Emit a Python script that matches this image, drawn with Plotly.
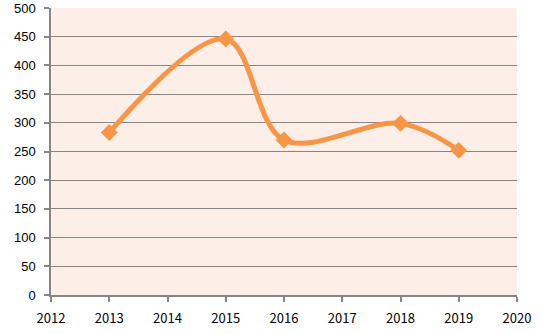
import plotly.graph_objects as go

years = [2013, 2015, 2016, 2018, 2019]
values = [283, 446, 270, 299, 252]

x_ticks = list(range(2012, 2021))
y_ticks = list(range(0, 501, 50))

fig = go.Figure()
fig.add_trace(go.Scatter(
    x=years, y=values,
    mode="lines+markers",
    line=dict(color="#F79646", width=5, shape="spline", smoothing=1.0),
    marker=dict(symbol="diamond", size=13, color="#F79646"),
    showlegend=False,
))

fig.update_layout(
    width=548, height=334,
    margin=dict(l=51, r=31, t=8, b=39, autoexpand=False),
    paper_bgcolor="white",
    plot_bgcolor="#FDEEE8",
)
fig.update_xaxes(
    range=[2012, 2020], tickvals=x_ticks, ticktext=[str(v) for v in x_ticks],
    automargin=False,
    showgrid=False, zeroline=False,
    showline=True, linecolor="#868686", linewidth=1.5,
    ticks="outside", ticklen=5, tickcolor="#868686", tickwidth=1.5,
    ticklabelstandoff=6,
    tickfont=dict(family="Noto Sans CJK SC", size=13, color="black"),
)
fig.update_yaxes(
    range=[0, 500], tickvals=y_ticks,
    automargin=False,
    showgrid=True, gridcolor="#868686", gridwidth=1.2,
    zeroline=False,
    showline=True, linecolor="#868686", linewidth=1.5,
    ticks="outside", ticklen=5, tickcolor="#868686", tickwidth=1.5,
    ticklabelstandoff=6,
    tickfont=dict(family="Liberation Sans", size=13, color="black"),
)

fig.write_html("out.html")
